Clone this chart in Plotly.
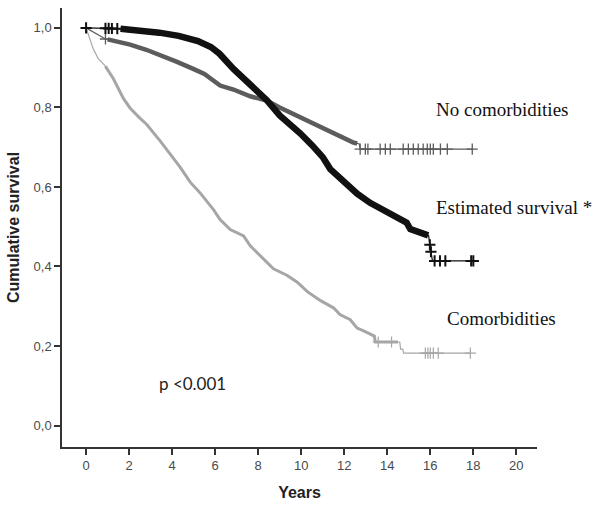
import plotly.graph_objects as go

# Kaplan-Meier curve knots (years, cumulative survival); events are dense enough
# that the staircase reads as a smooth line between these points
est_years = [0, 1.5, 2.5, 3.4, 4.3, 5.2, 5.8, 6.2, 6.85, 7.2, 7.8, 8.1, 8.4, 9.0, 9.4,
             9.95, 10.5, 11.0, 11.35, 12.0, 12.6, 13.2, 13.8, 14.1, 14.6, 14.9, 15.07,
             15.4, 15.7, 15.92, 15.97, 16.02, 16.07, 16.1, 18.1]
est_surv = [1.0, 0.998, 0.994, 0.988, 0.98, 0.967, 0.952, 0.935, 0.897, 0.880, 0.848,
            0.831, 0.818, 0.780, 0.762, 0.735, 0.705, 0.675, 0.645, 0.612, 0.583, 0.560,
            0.543, 0.535, 0.518, 0.510, 0.494, 0.488, 0.481, 0.478, 0.458, 0.440, 0.425,
            0.414, 0.414]
est_censor = [0.0, 0.9, 1.05, 1.2, 1.45, 15.98, 16.03, 16.2, 16.45, 16.7, 17.9, 18.0]

nocom_years = [0, 0.3, 0.6, 0.9, 1.5, 2.05, 2.8, 3.44, 4.2, 4.98, 5.5, 6.23, 6.85, 7.63,
               8.4, 9.0, 9.5, 9.95, 10.5, 10.9, 11.5, 11.8, 12.4, 12.7, 12.74, 18.0]
nocom_surv = [1.0, 0.99, 0.982, 0.972, 0.966, 0.958, 0.945, 0.932, 0.915, 0.897, 0.884,
              0.855, 0.845, 0.828, 0.817, 0.800, 0.787, 0.775, 0.762, 0.750, 0.734, 0.727,
              0.712, 0.708, 0.695, 0.695]
nocom_censor = [0.9, 12.74, 12.98, 13.1, 13.67, 13.91, 14.14, 14.74, 14.98, 15.21, 15.44,
                15.67, 15.86, 16.0, 16.14, 16.47, 16.79, 17.95]

com_years = [0, 0.15, 0.34, 0.57, 0.88, 1.27, 1.74, 2.05, 2.5, 2.82, 3.44, 3.9, 4.37, 4.84,
             5.3, 5.92, 6.23, 6.7, 7.32, 7.63, 8.09, 8.71, 9.33, 9.8, 10.3, 10.9, 11.5,
             11.8, 12.28, 12.6, 12.9, 13.3, 13.4, 13.44, 14.58, 14.62, 14.72, 14.76, 17.86]
com_surv = [1.0, 0.975, 0.946, 0.922, 0.905, 0.872, 0.822, 0.798, 0.773, 0.757, 0.716,
            0.683, 0.650, 0.612, 0.585, 0.543, 0.518, 0.493, 0.477, 0.452, 0.427, 0.394,
            0.378, 0.361, 0.336, 0.314, 0.296, 0.279, 0.266, 0.245, 0.238, 0.229, 0.225,
            0.210, 0.210, 0.192, 0.192, 0.182, 0.182]
com_censor = [13.58, 14.2, 15.77, 15.89, 16.0, 16.14, 16.37, 17.86]

x_ticks = [0, 2, 4, 6, 8, 10, 12, 14, 16, 18, 20]
y_ticks = [0.0, 0.2, 0.4, 0.6, 0.8, 1.0]
y_ticktext = ["0,0", "0,2", "0,4", "0,6", "0,8", "1,0"]


def curve_value(years, surv, t):
    for i in range(1, len(years)):
        if t <= years[i]:
            x0, x1 = years[i - 1], years[i]
            y0, y1 = surv[i - 1], surv[i]
            return y0 if x1 == x0 else y0 + (y1 - y0) * (t - x0) / (x1 - x0)
    return surv[-1]


def band(years, surv, t0, t1):
    """Sub-range of a curve, where censor ticks crowd together."""
    xs = [t0] + [y for y in years if t0 < y < t1] + [t1]
    ys = [curve_value(years, surv, x) for x in xs]
    return xs, ys


groups = [
    # name, years, surv, censor times, colour, band range, band width, tick width
    ("No comorbidities", nocom_years, nocom_surv, nocom_censor, "#5c5c5c", (1.0, 12.6), 4.5, 1.3),
    ("Comorbidities", com_years, com_surv, com_censor, "#a6a6a6", (0.9, 14.5), 3.0, 1.2),
    ("Estimated survival", est_years, est_surv, est_censor, "#111111", (1.6, 15.9), 6.5, 2.0),
]

fig = go.Figure()
for name, yrs, sv, cens, col, (b0, b1), bw, tw in groups:
    fig.add_trace(go.Scatter(x=yrs, y=sv, mode="lines", line=dict(color=col, width=1.2),
                             name=name, showlegend=False))
    bx, by = band(yrs, sv, b0, b1)
    fig.add_trace(go.Scatter(x=bx, y=by, mode="lines", line=dict(color=col, width=bw),
                             showlegend=False))
    fig.add_trace(go.Scatter(x=cens, y=[curve_value(yrs, sv, c) for c in cens], mode="markers",
                             marker=dict(symbol="cross-thin-open", size=8, color=col,
                                         line=dict(color=col, width=tw)),
                             showlegend=False))

serif = "Liberation Serif, Times New Roman, serif"
labels = [
    ("No comorbidities", 434, 111),
    ("Estimated survival *", 434, 211),
    ("Comorbidities", 445, 324),
]
for txt, px, py in labels:
    fig.add_annotation(text=txt, xref="paper", yref="paper",
                       x=(px - 62) / 475, y=1 - (py - 8) / 447,
                       xanchor="left", yanchor="middle", showarrow=False,
                       font=dict(family=serif, size=19, color="#111"))
fig.add_annotation(text="p <0.001", xref="paper", yref="paper",
                   x=(157 - 62) / 475, y=1 - (390 - 8) / 447,
                   xanchor="left", yanchor="middle", showarrow=False,
                   font=dict(family="Lato, Liberation Sans, sans-serif", size=17, color="#222"))

axis_font = dict(family="Liberation Sans, Arial, sans-serif", size=13, color="#4a4a4a")
title_font = dict(family="Liberation Sans, Arial, sans-serif", size=16, color="#222")
fig.update_layout(
    width=595, height=507,
    margin=dict(l=62, r=58, t=8, b=52),
    paper_bgcolor="white", plot_bgcolor="white",
    xaxis=dict(range=[-1.12, 20.96], tickvals=x_ticks, ticks="outside", ticklen=6,
               tickwidth=1.5, tickcolor="#333", showline=True, linecolor="#333", linewidth=1.5,
               showgrid=False, zeroline=False, tickfont=axis_font,
               title=dict(text="<b>Years</b>", standoff=14, font=title_font)),
    yaxis=dict(range=[-0.054, 1.05], tickvals=y_ticks, ticktext=y_ticktext, ticks="outside",
               ticklen=6, tickwidth=1.5, tickcolor="#333", showline=True, linecolor="#333",
               linewidth=1.5, showgrid=False, zeroline=False, tickfont=axis_font,
               title=dict(text="<b>Cumulative survival</b>", standoff=10, font=title_font)),
)

fig.write_html("out.html")
